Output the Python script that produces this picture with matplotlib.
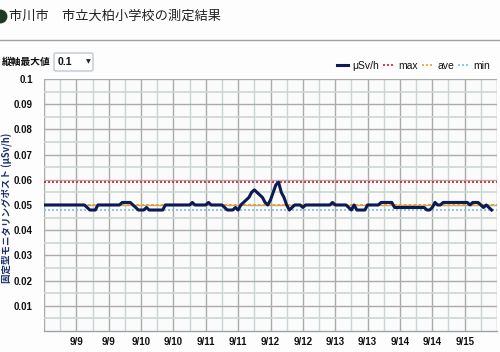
import numpy as np
import matplotlib
matplotlib.use("Agg")
import matplotlib.pyplot as plt
from matplotlib.lines import Line2D
from matplotlib.patches import FancyBboxPatch

plt.rcParams['font.family'] = ['Noto Sans CJK JP', 'DejaVu Sans']

# hourly readings (uSv/h), starting 9/8 12:00
dose = [
    0.050, 0.050, 0.050, 0.050, 0.050, 0.050, 0.050, 0.050, 0.050, 0.050, 0.050, 0.050,
    0.050, 0.050, 0.050, 0.050, 0.049, 0.048, 0.048, 0.048, 0.050, 0.050, 0.050, 0.050,
    0.050, 0.050, 0.050, 0.050, 0.050, 0.051, 0.051, 0.051, 0.051, 0.050, 0.049, 0.048,
    0.048, 0.048, 0.049, 0.048, 0.048, 0.048, 0.048, 0.048, 0.048, 0.050, 0.050, 0.050,
    0.050, 0.050, 0.050, 0.050, 0.050, 0.050, 0.050, 0.051, 0.050, 0.050, 0.050, 0.050,
    0.050, 0.051, 0.050, 0.050, 0.050, 0.050, 0.050, 0.049, 0.048, 0.048, 0.048, 0.049,
    0.048, 0.050, 0.051, 0.052, 0.053, 0.055, 0.056, 0.055, 0.054, 0.053, 0.051, 0.050,
    0.052, 0.055, 0.058, 0.059, 0.055, 0.053, 0.050, 0.048, 0.049, 0.050, 0.050, 0.050,
    0.049, 0.050, 0.050, 0.050, 0.050, 0.050, 0.050, 0.050, 0.050, 0.050, 0.050, 0.051,
    0.050, 0.050, 0.050, 0.050, 0.050, 0.049, 0.048, 0.050, 0.048, 0.048, 0.048, 0.048,
    0.050, 0.050, 0.050, 0.050, 0.050, 0.051, 0.051, 0.051, 0.051, 0.051, 0.049, 0.049,
    0.049, 0.049, 0.049, 0.049, 0.049, 0.049, 0.049, 0.049, 0.049, 0.049, 0.048, 0.048,
    0.049, 0.051, 0.050, 0.050, 0.051, 0.051, 0.051, 0.051, 0.051, 0.051, 0.051, 0.051,
    0.051, 0.051, 0.050, 0.051, 0.051, 0.051, 0.050, 0.049, 0.050, 0.049, 0.048,
]
hours = np.arange(len(dose))
dose_max = 0.059
dose_ave = 0.0499
dose_min = 0.048

tick_hours = [12, 24, 36, 48, 60, 72, 84, 96, 108, 120, 132, 144, 156]
tick_labels = ["9/9", "9/9", "9/10", "9/10", "9/11", "9/11", "9/12", "9/12",
               "9/13", "9/13", "9/14", "9/14", "9/15"]
y_ticks = [0.01, 0.02, 0.03, 0.04, 0.05, 0.06, 0.07, 0.08, 0.09, 0.1]
y_labels = ["0.01", "0.02", "0.03", "0.04", "0.05", "0.06", "0.07", "0.08", "0.09", "0.1"]

fig = plt.figure(figsize=(5.0, 3.52), dpi=100, facecolor="#fdfdfd")
ax = fig.add_axes([0.088, 0.0597, 0.906, 0.716])
ax.set_facecolor("#fbfbfb")

ax.set_xlim(0, 168)
ax.set_ylim(0, 0.1)

# grid
for h in np.arange(6, 168, 12):
    ax.axvline(h, color="#c9d6d6", lw=1.0, zorder=0)
for h in np.arange(0, 169, 12):
    ax.axvline(h, color="#a8aca8", lw=1.0, zorder=0)
for v in np.arange(0.005, 0.1, 0.01):
    ax.axhline(v, color="#cdd8cf", lw=1.2, zorder=0)
for v in np.arange(0.01, 0.1001, 0.01):
    ax.axhline(v, color="#a9aca9", lw=1.0, zorder=0)

ax.axhline(dose_max, color="#e01030", lw=1.2, ls=(0, (1.2, 1.2)), zorder=2)
ax.axhline(dose_ave, color="#f0a020", lw=1.4, ls=(0, (1.5, 1.0)), zorder=2)
ax.axhline(dose_min, color="#80bde0", lw=1.2, ls=(0, (1.2, 1.2)), zorder=2)
ax.plot(hours, dose, color="#0c1a55", lw=2.2, zorder=3, solid_joinstyle="round")

for s in ["top", "right", "left"]:
    ax.spines[s].set_visible(False)
ax.spines["bottom"].set_color("#9aa4a8")
ax.spines["bottom"].set_linewidth(1.0)

ax.set_xticks(tick_hours)
ax.set_xticklabels(tick_labels, fontfamily="Liberation Sans", fontweight="bold", fontsize=7, color="#111111")
ax.set_yticks(y_ticks)
ax.set_yticklabels(y_labels, fontfamily="Liberation Sans", fontweight="bold", fontsize=7, color="#111111")
ax.tick_params(axis="both", length=0)
ax.tick_params(axis="y", pad=8)
ax.tick_params(axis="x", pad=4)

ax.set_ylabel("固定型モニタリングポスト (μSv/h)", fontsize=6.8, fontweight="bold", color="#1c2f6e")
ax.yaxis.set_label_coords(-0.069, 0.49)

# header
fig.add_artist(Line2D([0.0], [1 - 16 / 352], marker="o", markersize=9, color="#1f3a22",
                      transform=fig.transFigure))
fig.text(9 / 500, 1 - 16 / 352, "市川市　市立大柏小学校の測定結果", fontsize=9.5, color="#222222",
         va="center", ha="left")
fig.add_artist(Line2D([0, 1], [1 - 40 / 352, 1 - 40 / 352], color="#a0a0a0", lw=1.0,
                      transform=fig.transFigure))

fig.text(0.004, 1 - 62 / 352, "縦軸最大値", fontsize=7, fontweight="bold", color="#111111",
         va="center", ha="left")
fig.add_artist(FancyBboxPatch((54 / 500, 1 - 71 / 352), 39 / 500, 18 / 352,
                              boxstyle="round,pad=0,rounding_size=0.004",
                              transform=fig.transFigure, facecolor="#ffffff",
                              edgecolor="#c0c8d0", lw=1.0))
fig.text(58 / 500, 1 - 62 / 352, "0.1", fontsize=7.5, fontweight="bold",
         fontfamily="Liberation Sans", color="#111111", va="center", ha="left")
fig.text(88 / 500, 1 - 62 / 352, "▼", fontsize=4.5, fontfamily="DejaVu Sans",
         color="#222222", va="center", ha="center")

handles = [
    Line2D([], [], color="#0c1a55", lw=2.2),
    Line2D([], [], color="#e01030", lw=1.2, ls=(0, (1.2, 1.2))),
    Line2D([], [], color="#f0a020", lw=1.2, ls=(0, (1.2, 1.2))),
    Line2D([], [], color="#80bde0", lw=1.2, ls=(0, (1.2, 1.2))),
]
leg = fig.legend(handles, ["μSv/h", "max", "ave", "min"], ncol=4, frameon=False,
                 loc="center right", bbox_to_anchor=(0.995, 1 - 66 / 352),
                 handlelength=1.1, handletextpad=0.4, columnspacing=0.35,
                 borderpad=0.2, prop={"family": "Liberation Sans", "size": 7.5})
for t in leg.get_texts():
    t.set_color("#111111")

fig.savefig("out.png", dpi=100, facecolor=fig.get_facecolor())
